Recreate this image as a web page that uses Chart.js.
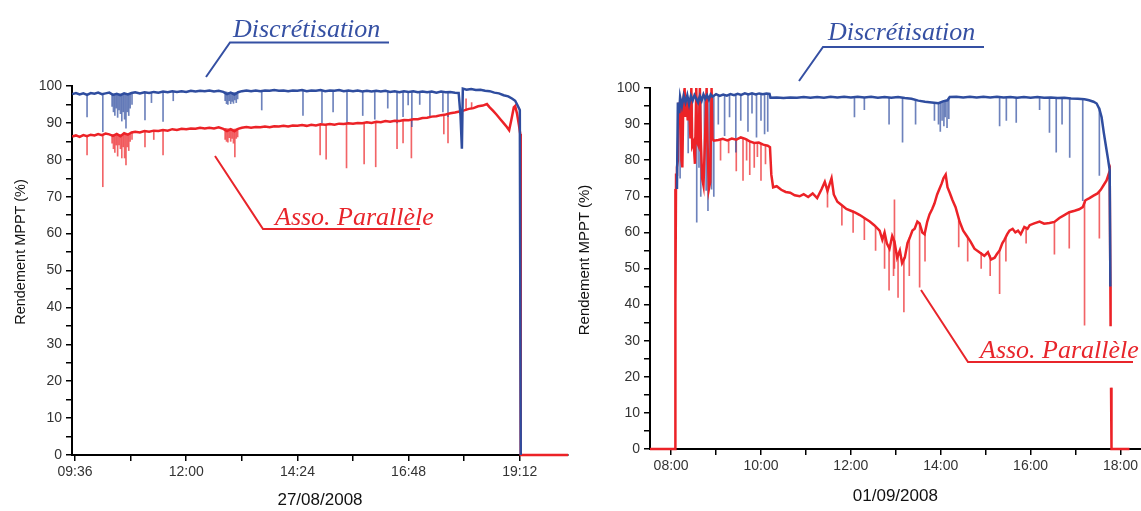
<!DOCTYPE html>
<html>
<head>
<meta charset="utf-8">
<script src="https://cdn.jsdelivr.net/npm/chart.js@4.4.1/dist/chart.umd.min.js"></script>
<style>
  html, body { margin: 0; padding: 0; background: #fff; }
  #wrap { position: relative; width: 1141px; height: 511px; overflow: hidden; }
  canvas { position: absolute; top: 0; }
  #notes { position: absolute; left: 0; top: 0; pointer-events: none; }
</style>
</head>
<body>
<div id="wrap">
  <canvas id="left" width="570" height="511" style="left:0"></canvas>
  <canvas id="right" width="571" height="511" style="left:570px"></canvas>
  <svg id="notes" width="1141" height="511">
    <g font-family="'Liberation Sans', Arial, sans-serif" fill="#111" text-anchor="middle">
      <text transform="translate(25,252) rotate(-90)" font-size="14.5">Rendement MPPT (%)</text>
      <text transform="translate(589,260) rotate(-90)" font-size="15">Rendement MPPT (%)</text>
    </g>
    <g font-family="'Liberation Serif', 'Times New Roman', serif" font-style="italic" font-size="26">
      <text x="233" y="37" fill="#3550a3">Discrétisation</text>
      <text x="275" y="225" fill="#e8252b">Asso. Parallèle</text>
      <text x="828" y="40" fill="#3550a3">Discrétisation</text>
      <text x="980" y="358" fill="#e8252b">Asso. Parallèle</text>
    </g>
    <g stroke-width="2" fill="none">
      <polyline points="206,77 230,42.5 389,42.5" stroke="#3550a3"/>
      <polyline points="215,156 263,229 420,229" stroke="#e8252b"/>
      <polyline points="799,81 823,47 984,47" stroke="#3550a3"/>
      <polyline points="921,290 968,362 1133,362" stroke="#e8252b"/>
    </g>
  </svg>
</div>
<script>
// hours as decimals, efficiency in %
const yTicks = [0, 5, 10, 15, 20, 25, 30, 35, 40, 45, 50, 55, 60, 65, 70, 75, 80, 85, 90, 95, 100]
const yTickLabels = ['0', '', '10', '', '20', '', '30', '', '40', '', '50', '', '60', '', '70', '', '80', '', '90', '', '100']

const leftTicks = [9.6, 10.8, 12, 13.2, 14.4, 15.6, 16.8, 18, 19.2]
const leftTickLabels = ['09:36', '', '12:00', '', '14:24', '', '16:48', '', '19:12']
const rightTicks = [8, 9, 10, 11, 12, 13, 14, 15, 16, 17, 18]
const rightTickLabels = ['08:00', '', '10:00', '', '12:00', '', '14:00', '', '16:00', '', '18:00']

// 27/08/2008
const leftBlue = [
  [9.54,97.8],[9.62,98.1],[9.70,97.7],[9.78,98.0],[9.86,97.6],[9.94,98.1],[10.02,97.9],[10.10,98.2],[10.18,97.8],[10.26,98.0],
  [10.34,98.2],[10.42,97.6],[10.50,97.9],[10.58,97.5],[10.66,98.0],[10.74,97.7],[10.82,98.1],[10.90,98.3],[11.00,98.0],[11.10,98.3],
  [11.20,98.1],[11.30,98.4],[11.40,98.2],[11.50,98.5],[11.60,98.3],[11.70,98.6],[11.80,98.4],[11.90,98.6],[12.00,98.4],[12.10,98.7],
  [12.20,98.5],[12.30,98.7],[12.40,98.6],[12.50,98.8],[12.60,98.5],[12.70,98.7],[12.80,98.4],[12.88,97.8],[12.96,98.2],[13.04,97.7],
  [13.12,98.3],[13.20,98.6],[13.30,98.8],[13.40,98.6],[13.50,98.8],[13.60,98.6],[13.70,98.8],[13.80,98.7],[13.90,98.9],[14.00,98.7],
  [14.10,98.8],[14.20,98.6],[14.30,98.8],[14.40,98.7],[14.50,98.9],[14.60,98.6],[14.70,98.8],[14.80,98.7],[14.90,98.9],[15.00,98.6],
  [15.10,98.8],[15.20,98.7],[15.30,98.9],[15.40,98.6],[15.50,98.8],[15.60,98.6],[15.70,98.8],[15.80,98.5],[15.90,98.7],[16.00,98.5],
  [16.10,98.7],[16.20,98.5],[16.30,98.7],[16.40,98.4],[16.50,98.6],[16.60,98.3],[16.70,98.6],[16.80,98.4],[16.90,98.6],[17.00,98.3],
  [17.10,98.5],[17.20,98.3],[17.30,98.5],[17.40,98.2],[17.50,98.5],[17.60,98.3],[17.70,98.4],[17.80,98.2],[17.88,98.1],[17.92,92.0],
  [17.95,83.0],[17.97,99.3],[18.05,99.0],[18.15,99.2],[18.25,98.9],[18.35,99.0],[18.45,98.7],[18.55,98.6],[18.65,98.2],[18.75,98.0],
  [18.85,97.5],[18.95,97.2],[19.03,96.6],[19.10,96.0],[19.15,94.8],[19.20,93.5],[19.22,0]
]
const leftRed = [
  [9.54,86.3],[9.62,86.6],[9.70,86.2],[9.78,86.7],[9.86,86.4],[9.94,86.8],[10.02,86.6],[10.10,87.0],[10.18,86.7],[10.26,87.1],
  [10.34,86.9],[10.42,86.5],[10.50,87.0],[10.58,86.4],[10.66,87.2],[10.74,86.8],[10.82,87.4],[10.90,87.6],[11.00,87.4],[11.10,87.8],
  [11.20,87.6],[11.30,87.9],[11.40,87.8],[11.50,88.1],[11.60,87.9],[11.70,88.3],[11.80,88.1],[11.90,88.4],[12.00,88.3],[12.10,88.5],
  [12.20,88.4],[12.30,88.7],[12.40,88.5],[12.50,88.7],[12.60,88.5],[12.70,88.8],[12.80,88.4],[12.88,87.8],[12.96,88.3],[13.04,87.7],
  [13.12,88.4],[13.20,88.7],[13.30,88.9],[13.40,88.7],[13.50,88.9],[13.60,88.8],[13.70,89.0],[13.80,88.8],[13.90,89.1],[14.00,89.0],
  [14.10,89.2],[14.20,89.0],[14.30,89.3],[14.40,89.2],[14.50,89.4],[14.60,89.2],[14.70,89.5],[14.80,89.3],[14.90,89.6],[15.00,89.5],
  [15.10,89.7],[15.20,89.5],[15.30,89.8],[15.40,89.7],[15.50,89.9],[15.60,89.8],[15.70,90.0],[15.80,89.9],[15.90,90.2],[16.00,90.0],
  [16.10,90.3],[16.20,90.2],[16.30,90.5],[16.40,90.3],[16.50,90.6],[16.60,90.5],[16.70,90.8],[16.80,90.7],[16.90,91.0],[17.00,91.0],
  [17.10,91.3],[17.20,91.4],[17.30,91.7],[17.40,91.8],[17.50,92.1],[17.60,92.3],[17.70,92.6],[17.80,92.8],[17.90,93.1],[18.00,93.4],
  [18.10,93.8],[18.20,94.0],[18.30,94.5],[18.40,94.7],[18.49,95.1],[18.55,94.2],[18.62,93.3],[18.70,92.2],[18.78,91.0],[18.86,89.8],
  [18.92,88.9],[18.97,88.0],[19.02,91.0],[19.07,94.2],[19.10,94.6],[19.14,92.5],[19.18,89.5],[19.21,87.0],[19.22,0],[20.24,0]
]
// [time, low, high] of the short drops
const leftBlueDips = [
  [9.86,91.6,97.8],[10.20,87.6,98.0],[10.40,94.5,97.8],[10.43,93,97.8],[10.46,92,97.8],[10.49,94,97.8],[10.52,91.5,97.8],[10.55,93.5,97.8],
  [10.58,92.5,97.8],[10.61,90.5,97.8],[10.64,93,97.8],[10.67,91,97.8],[10.70,88.6,97.8],[10.73,93,97.8],[10.76,92,97.8],[10.79,94,97.8],
  [10.83,95,98],[11.11,90.8,98.2],[11.25,95.5,98.2],[11.50,90.4,98.4],[11.72,96,98.5],[12.84,96,98.4],[12.87,95.2,98.4],[12.90,95,98.2],
  [12.93,96,98.2],[12.96,95.2,98.2],[12.99,95.8,98.2],[13.02,95.3,98.2],[13.05,96.2,98.2],[13.08,95.5,98.2],[13.11,96.5,98.3],[13.63,93.5,98.7],
  [14.52,92,98.8],[14.93,90,98.8],[15.17,93,98.7],[15.47,90,98.8],[15.81,92,98.6],[16.07,91,98.6],[16.35,94,98.6],[16.55,90,98.5],
  [16.68,91.7,98.5],[16.79,94.9,98.5],[16.87,89,98.5],[17.04,95,98.4],[17.26,91.5,98.4],[17.54,93,98.4],[17.65,91.7,98.3]
]
const leftRedDips = [
  [9.86,81.3,86.5],[10.20,72.7,86.9],[10.40,84.5,86.8],[10.43,83,86.8],[10.46,82,86.8],[10.49,84,86.8],[10.52,81,86.8],[10.55,84,86.8],
  [10.58,83,86.8],[10.61,80.5,86.8],[10.64,83.5,86.8],[10.67,80.5,87],[10.70,78.6,87],[10.73,83.5,87],[10.76,82.5,87],[10.79,85,87.2],
  [10.83,85.5,87.4],[11.11,83.5,87.8],[11.30,85.5,87.9],[11.50,81.3,88.1],[12.84,85.5,88.5],[12.87,85,88.5],[12.90,84.8,88.4],[12.93,86,88.4],
  [12.96,85,88.3],[12.99,85.8,88.3],[13.02,84.5,88.3],[13.05,80.8,88.3],[13.08,85.8,88.4],[13.11,86.2,88.5],[14.89,81.3,89.6],[15.02,80.2,89.6],
  [15.46,77.8,89.9],[15.84,78.9,90],[16.09,78.1,90.2],[16.55,83,90.6],[16.68,84.6,90.7],[16.86,80.5,90.9],[17.56,87,92.1],[17.65,84.6,92.4],
  [18.04,93.4,96.5],[18.16,93.8,95.5]
]

// 01/09/2008
const rightBlue = [
  [8.13,72],[8.15,96],[8.18,93],[8.20,97.5],[8.24,95],[8.28,97.8],[8.32,96],[8.36,98],[8.40,95.5],[8.44,97.8],
  [8.48,96.5],[8.52,98],[8.56,97],[8.60,96],[8.64,97.8],[8.68,96.5],[8.72,98.2],[8.76,97],[8.80,98],[8.84,96.8],
  [8.88,98.2],[8.92,97.6],[9.00,98.3],[9.08,97.8],[9.16,98.2],[9.24,97.9],[9.32,98.3],[9.40,98.0],[9.48,98.4],[9.56,98.1],
  [9.64,98.5],[9.72,98.2],[9.80,98.5],[9.88,98.2],[9.96,98.5],[10.04,98.3],[10.12,98.5],[10.19,98.4],[10.21,97.3],[10.35,97.4],
  [10.50,97.2],[10.65,97.4],[10.80,97.3],[10.95,97.5],[11.10,97.3],[11.25,97.5],[11.40,97.3],[11.55,97.6],[11.70,97.4],[11.85,97.6],
  [12.00,97.4],[12.15,97.6],[12.30,97.4],[12.45,97.6],[12.60,97.3],[12.75,97.5],[12.90,97.3],[13.05,97.5],[13.20,97.2],[13.35,97.0],
  [13.50,96.5],[13.65,96.2],[13.80,96.0],[13.95,95.8],[14.05,96.3],[14.15,96.6],[14.20,97.5],[14.35,97.6],[14.50,97.4],[14.65,97.6],
  [14.80,97.4],[14.95,97.6],[15.10,97.4],[15.25,97.6],[15.40,97.4],[15.55,97.5],[15.70,97.3],[15.85,97.5],[16.00,97.3],[16.15,97.5],
  [16.30,97.3],[16.45,97.4],[16.60,97.2],[16.75,97.3],[16.90,97.1],[17.05,97.0],[17.20,96.9],[17.30,96.6],[17.40,96.2],[17.47,95.7],
  [17.53,94.2],[17.58,91.9],[17.63,87.5],[17.68,83.6],[17.72,80.5],[17.76,77.2],[17.775,45]
]
const rightRed = [
  [7.53,0],[8.09,0],[8.09,72],[8.10,40],[8.11,76],[8.13,78],[8.15,80],[8.17,96],[8.19,92],[8.21,97],
  [8.23,80],[8.25,78],[8.27,96],[8.30,100],[8.32,92],[8.34,97],[8.37,91],[8.40,96],[8.43,86],[8.45,100],
  [8.47,84],[8.50,85],[8.53,79],[8.56,100],[8.58,85],[8.61,84],[8.64,100],[8.66,86],[8.69,75],[8.72,73],
  [8.75,84],[8.79,100],[8.81,85],[8.84,72],[8.87,74],[8.90,100],[8.92,86],[8.95,85.4],[9.05,85.6],[9.15,85.9],
  [9.25,85.5],[9.35,86.0],[9.45,85.7],[9.55,86.3],[9.65,85.9],[9.75,85.2],[9.85,84.8],[9.95,84.9],[10.05,84.3],[10.15,84.0],
  [10.20,83.6],[10.23,76],[10.27,72.5],[10.35,72.8],[10.45,71.8],[10.55,71.2],[10.65,71.0],[10.75,70.3],[10.86,70.0],[10.95,70.6],
  [11.05,69.8],[11.15,70.8],[11.25,69.5],[11.35,72.0],[11.42,74.0],[11.48,71.5],[11.53,73.5],[11.57,75.0],[11.62,70.5],[11.70,68.5],
  [11.80,67.5],[11.90,66.5],[12.00,66.0],[12.10,65.5],[12.20,64.8],[12.30,64.0],[12.42,63.0],[12.52,62.0],[12.64,60.5],[12.70,58.0],
  [12.75,60.0],[12.80,57.0],[12.86,55.5],[12.92,59.0],[12.97,57.5],[13.03,53.0],[13.09,55.0],[13.14,51.5],[13.20,53.0],[13.26,57.0],
  [13.31,58.5],[13.37,60.5],[13.42,61.0],[13.48,63.0],[13.53,62.5],[13.59,60.0],[13.64,59.5],[13.70,63.0],[13.75,65.0],[13.81,66.5],
  [13.86,68.0],[13.92,70.5],[13.97,72.0],[14.02,73.5],[14.06,75.0],[14.11,76.0],[14.15,72.5],[14.20,71.0],[14.26,69.0],[14.33,67.0],
  [14.42,63.0],[14.50,60.5],[14.58,59.0],[14.66,57.5],[14.75,55.5],[14.86,54.5],[14.97,53.5],[15.05,54.5],[15.12,52.5],[15.20,53.0],
  [15.25,54.0],[15.31,55.0],[15.37,57.0],[15.42,58.0],[15.48,59.5],[15.53,60.5],[15.60,61.0],[15.66,60.0],[15.72,60.5],[15.78,59.5],
  [15.86,61.5],[15.93,61.0],[15.98,62.0],[16.08,62.5],[16.20,63.0],[16.30,62.4],[16.42,62.6],[16.53,62.9],[16.64,64.0],[16.75,64.8],
  [16.86,65.6],[16.98,66.0],[17.08,66.4],[17.16,67.0],[17.22,68.9],[17.31,69.5],[17.40,70.2],[17.49,70.8],[17.56,71.8],[17.62,73.0],
  [17.69,74.4],[17.76,77.0],[17.775,45],[17.78,34],[17.785,null],[17.79,17],[17.80,0],[18.20,0]
]
const rightBlueDips = [
  [8.20,75,97],[8.38,82,97],[8.47,88,97],[8.57,62.8,97.5],[8.62,78,97.5],[8.66,70,97.5],[8.74,80,97.5],[8.78,71.6,97.5],
  [8.82,66,97.5],[8.86,74,97.8],[8.90,72,97.8],[8.95,70,97.8],[9.05,90,98],[9.19,86.8,98],[9.30,92,98],[9.44,82.2,98.2],
  [9.55,91,98.2],[9.71,88,98.3],[9.80,93,98.4],[9.90,86.4,98.4],[10.00,91,98.4],[10.08,87.3,98.4],[10.15,88,98.4],[12.08,92,97.4],
  [12.30,94,97.4],[12.85,90,97.3],[13.15,85,97.3],[13.44,90,96.6],[13.86,91,96],[13.95,90,96],[13.99,88,96],[14.03,91,96.2],
  [14.07,89.5,96.2],[14.10,92,96.4],[14.14,89,96.5],[14.18,91.5,96.8],[15.31,89.5,97.4],[15.46,91,97.4],[15.68,90.5,97.4],[16.20,94,97.3],
  [16.42,87.7,97.3],[16.57,82.2,97.2],[16.70,90,97.2],[16.87,80.8,97.1],[17.16,68.8,96.8],[17.53,75.8,94.5]
]
const rightRedDips = [
  [9.10,80,85.8],[9.28,82,85.7],[9.45,77,85.8],[9.60,74.4,86.1],[9.68,80,85.9],[9.75,76,85.3],[9.85,78,84.9],[9.92,81,84.9],
  [10.00,74.4,84.6],[10.10,79,84.2],[11.48,67,72],[11.80,62,67.5],[12.05,60,66],[12.30,58,64],[12.55,55,61.5],[12.75,50,59],
  [12.85,44,56],[12.95,48,58],[12.97,50,69],[13.05,42,54],[13.18,38,53],[13.30,48,58],[13.53,44.8,62.5],[13.65,52,60],
  [14.40,56,63.5],[14.60,52,58.5],[14.90,50,54.5],[15.10,48,53.5],[15.31,43,55],[15.45,52,58.5],[15.90,57,61.5],[16.53,54,62.9],
  [16.86,55.6,65.6],[17.20,34.3,68.9],[17.53,58.4,71.2]
]

const blue = '#2f4d9f'
const red = '#ec2227'
const blueLight = 'rgba(47,77,159,0.7)'
const redLight = 'rgba(236,34,39,0.7)'
const sans = "'Liberation Sans', Arial, sans-serif"

const toBars = dips => dips.map(d => ({ x: d[0], y: [d[1], d[2]] }))

function buildChart(id, cfg) {
    return new Chart(document.getElementById(id), {
        type: 'line',
        data: {
            datasets: [
                { label: 'Discrétisation', data: cfg.blue, borderColor: blue, borderWidth: 2.5, pointRadius: 0, tension: 0, clip: 4, order: 1 },
                { label: 'Asso. Parallèle', data: cfg.red, borderColor: red, borderWidth: 2.5, pointRadius: 0, tension: 0, clip: 4, order: 2 },
                { type: 'bar', data: toBars(cfg.blueDips), backgroundColor: blueLight, barThickness: 1, grouped: false, order: 3 },
                { type: 'bar', data: toBars(cfg.redDips), backgroundColor: redLight, barThickness: 1, grouped: false, order: 4 },
            ],
        },
        options: {
            responsive: false,
            animation: false,
            devicePixelRatio: 1,
            layout: { padding: cfg.padding },
            plugins: {
                legend: { display: false },
                tooltip: { enabled: false },
            },
            scales: {
                x: {
                    type: 'linear',
                    min: cfg.xMin,
                    max: cfg.xMax,
                    offset: false,
                    afterBuildTicks: s => { s.ticks = cfg.xTicks.map(v => ({ value: v })) },
                    afterFit: s => { s.height = cfg.xHeight },
                    ticks: {
                        autoSkip: false, maxRotation: 0, padding: 3, color: '#333',
                        font: { family: sans, size: 14 },
                        callback: (v, i) => cfg.xLabels[i],
                    },
                    grid: { offset: false, drawOnChartArea: false, tickLength: 6, color: '#000', lineWidth: 1.5 },
                    border: { display: true, color: '#000', width: 2 },
                    title: { display: true, text: cfg.date, color: '#111', font: { family: sans, size: 17 }, padding: { top: 0, bottom: cfg.dateGap } },
                },
                y: {
                    min: 0,
                    max: 100,
                    afterBuildTicks: s => { s.ticks = yTicks.map(v => ({ value: v })) },
                    afterFit: s => { s.width = cfg.yWidth },
                    ticks: {
                        autoSkip: false, padding: 4, color: '#333',
                        font: { family: sans, size: 14 },
                        callback: (v, i) => yTickLabels[i],
                    },
                    grid: { drawOnChartArea: false, tickLength: 6, color: '#000', lineWidth: 1.5 },
                    border: { display: true, color: '#000', width: 2 },
                },
            },
        },
    })
}

buildChart('left', {
    blue: leftBlue, red: leftRed, blueDips: leftBlueDips, redDips: leftRedDips,
    xMin: 9.535, xMax: 20.24, xTicks: leftTicks, xLabels: leftTickLabels,
    date: '27/08/2008', dateGap: 0,
    padding: { left: 0, top: 86, right: 2, bottom: 0 }, yWidth: 72, xHeight: 56,
})

buildChart('right', {
    blue: rightBlue, red: rightRed, blueDips: rightBlueDips, redDips: rightRedDips,
    xMin: 7.53, xMax: 18.45, xTicks: rightTicks, xLabels: rightTickLabels,
    date: '01/09/2008', dateGap: 4,
    padding: { left: 0, top: 88, right: 0, bottom: 0 }, yWidth: 80, xHeight: 62,
})
</script>
</body>
</html>
